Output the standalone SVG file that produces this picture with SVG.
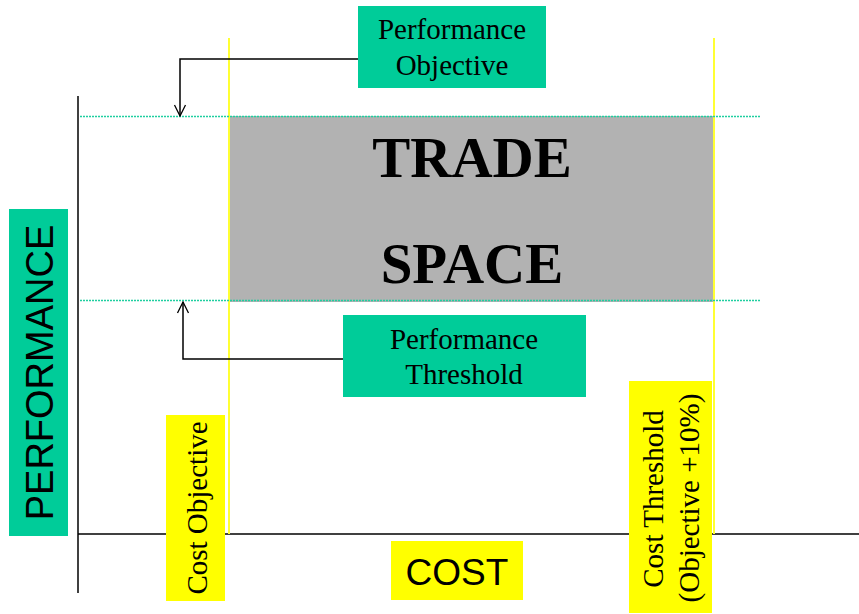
<svg xmlns="http://www.w3.org/2000/svg" width="859" height="614" viewBox="0 0 859 614">
  <style>
    .serif { font-family: "Liberation Serif", "Times New Roman", serif; fill: #000; }
    .sans { font-family: "Liberation Sans", Arial, sans-serif; fill: #000; }
    .label { font-size: 29px; text-anchor: middle; }
    .axis { stroke: #000; stroke-width: 1.5; fill: none; }
    .limit { stroke: #ffff33; stroke-width: 2; fill: none; }
    .level { stroke: #1fcfa0; stroke-width: 1.5; stroke-dasharray: 2 1; fill: none; }
    .teal { fill: #00cc99; }
    .yellow { fill: #ffff00; }
    .conn { stroke: #000; stroke-width: 1.5; fill: none; }
  </style>
  <defs>
    <marker id="openArrow" viewBox="0 0 14 14" refX="13" refY="7" markerWidth="14" markerHeight="14" markerUnits="userSpaceOnUse" orient="auto">
      <path d="M2,1.5 L13,7 L2,12.5" fill="none" stroke="#000" stroke-width="1.3"/>
    </marker>
  </defs>

  <rect width="859" height="614" fill="#fff"/>

  <!-- trade space region -->
  <g id="trade-space">
    <rect x="229" y="116" width="484" height="186" fill="#b2b2b2"/>
    <text class="serif" x="472" y="177" font-size="57" font-weight="bold" text-anchor="middle">TRADE</text>
    <text class="serif" x="472" y="283" font-size="57" font-weight="bold" text-anchor="middle">SPACE</text>
  </g>

  <!-- axes, limit lines and levels -->
  <g id="axes">
    <line class="axis" x1="78" y1="96" x2="78" y2="593"/>
    <line class="axis" x1="78" y1="534" x2="859" y2="534"/>
    <line class="limit" x1="229" y1="38" x2="229" y2="534"/>
    <line class="limit" x1="714" y1="38" x2="714" y2="534"/>
    <line class="level" x1="80" y1="116.5" x2="760" y2="116.5"/>
    <line class="level" x1="80" y1="300.5" x2="760" y2="300.5"/>
  </g>

  <!-- connectors -->
  <g id="connectors">
    <path class="conn" d="M358,59 H180 V116" marker-end="url(#openArrow)"/>
    <path class="conn" d="M343,359 H183 V302" stroke="#333" marker-end="url(#openArrow)"/>
  </g>

  <g id="performance-objective">
    <rect class="teal" x="358" y="6" width="188" height="82"/>
    <text class="serif label" x="452" y="39">Performance</text>
    <text class="serif label" x="452" y="75">Objective</text>
  </g>

  <g id="performance-threshold">
    <rect class="teal" x="343" y="315" width="243" height="82"/>
    <text class="serif label" x="464" y="349">Performance</text>
    <text class="serif label" x="464" y="384">Threshold</text>
  </g>

  <g id="performance-axis-label">
    <rect class="teal" x="9" y="209" width="59" height="327"/>
    <text class="sans" transform="translate(53,372.5) rotate(-90)" font-size="38" text-anchor="middle">PERFORMANCE</text>
  </g>

  <g id="cost-axis-label">
    <rect class="yellow" x="391" y="541" width="132" height="59"/>
    <text class="sans" x="457" y="585" font-size="37" text-anchor="middle">COST</text>
  </g>

  <g id="cost-objective">
    <rect class="yellow" x="166" y="415" width="59" height="186"/>
    <text class="serif label" transform="translate(206.5,508) rotate(-90)">Cost Objective</text>
  </g>

  <g id="cost-threshold">
    <rect class="yellow" x="629" y="381" width="83" height="232"/>
    <text class="serif label" transform="translate(663,499) rotate(-90)">Cost Threshold</text>
    <text class="serif label" transform="translate(699,498) rotate(-90)">(Objective +10%)</text>
  </g>
</svg>
